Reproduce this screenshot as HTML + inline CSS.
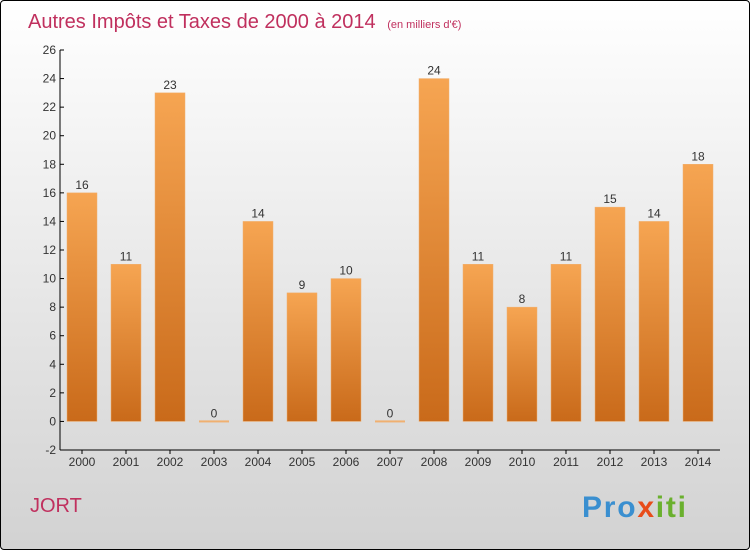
<!DOCTYPE html>
<html><head><meta charset="utf-8"><style>
html,body{margin:0;padding:0}
body{width:750px;height:550px;overflow:hidden;font-family:"Liberation Sans",sans-serif}
#frame{position:absolute;left:0;top:0;width:748px;height:548px;border:1px solid #000;border-radius:4px;background:linear-gradient(#ffffff,#d2d2d2)}
</style></head><body>
<div id="frame"></div>
<svg id="chart" width="750" height="550" style="position:absolute;left:0;top:0">
<defs><linearGradient id="bg" x1="0" y1="0" x2="0" y2="1"><stop offset="0" stop-color="#f6a552"/><stop offset="1" stop-color="#c96a1a"/></linearGradient></defs>
<text x="28" y="28" font-size="20" fill="#c0305e">Autres Impôts et Taxes de 2000 à 2014 <tspan font-size="11" dx="6">(en milliers d'€)</tspan></text>
<g id="axes"></g><g id="bars"></g>
<text x="30" y="512" font-size="20" fill="#c0305e">JORT</text>
<text x="582" y="517" font-size="30" font-weight="bold" fill="#3a8fd0" textLength="104">Pro<tspan fill="#e84c1a">x</tspan><tspan fill="#6ab02e">iti</tspan></text>
</svg>
<script>
const years=["2000","2001","2002","2003","2004","2005","2006","2007","2008","2009","2010","2011","2012","2013","2014"];
const values=[16,11,23,0,14,9,10,0,24,11,8,11,15,14,18];
const yTicks=[-2,0,2,4,6,8,10,12,14,16,18,20,22,24,26];
const NS="http://www.w3.org/2000/svg";
function y(v){return 450-(v+2)*400/28;}
function x(i){return 82+i*44;}
function mk(t,a,p){const e=document.createElementNS(NS,t);for(const k in a)e.setAttribute(k,a[k]);p.appendChild(e);return e;}
const ax=document.getElementById('axes'),bg=document.getElementById('bars');
let l=mk('line',{x1:60,y1:50,x2:60,y2:450,stroke:'#000'},ax);


l=mk('line',{x1:60,y1:450,x2:720,y2:450,stroke:'#000'},ax);


yTicks.forEach(v=>{
 mk('line',{x1:60,y1:y(v),x2:64,y2:y(v),stroke:'#000'},ax);
 const t=mk('text',{x:56,y:y(v)+4,'font-size':12,'text-anchor':'end',fill:'#333'},ax);t.textContent=v;
 
 
});
years.forEach((yr,i)=>{
 mk('line',{x1:x(i),y1:450,x2:x(i),y2:454,stroke:'#000'},ax);
 const t=mk('text',{x:x(i),y:466,'font-size':12,'text-anchor':'middle',fill:'#333'},ax);t.textContent=yr;
 
 
 const v=values[i];
 let r;
 if(v===0){r=mk('rect',{x:x(i)-15,y:y(0)-1,width:30,height:2,fill:'#f0b070'},bg);}
 else{r=mk('rect',{x:x(i)-15,y:y(v),width:30,height:y(0)-y(v),fill:'url(#bg)',stroke:'#f0b070','stroke-width':0.5},bg);}
 
 
 const lb=mk('text',{x:x(i),y:y(v)-4,'font-size':12,'text-anchor':'middle',fill:'#333'},bg);lb.textContent=v;
 
 
});
</script>
</body></html>
